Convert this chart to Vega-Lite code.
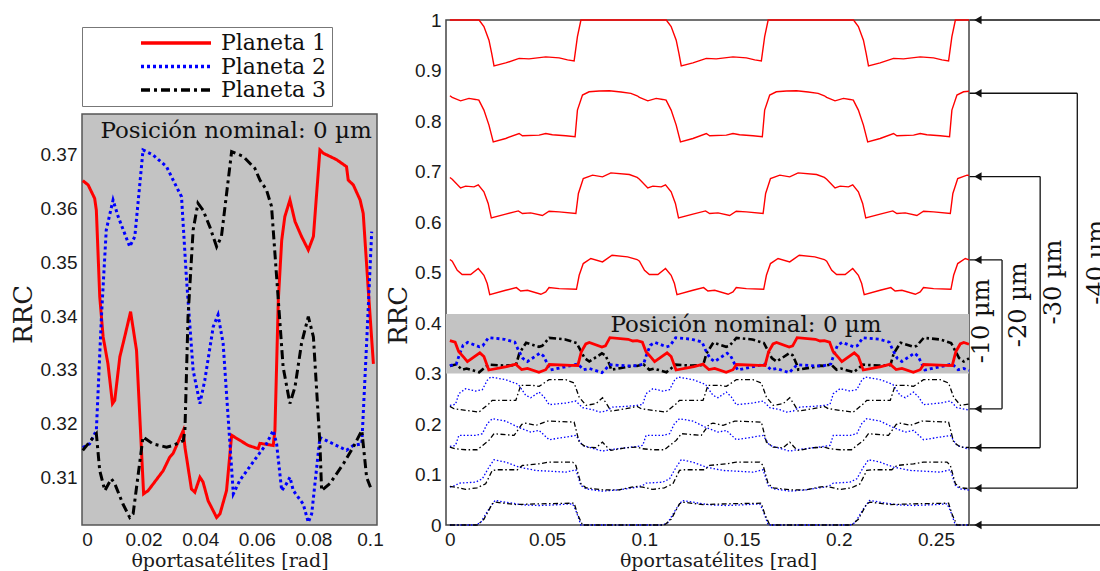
{
"$schema": "https://vega.github.io/schema/vega-lite/v6.json",
"background": "white",
"padding": {"left": 10, "top": 10, "right": 0, "bottom": 0},
"config": {
  "axis": {"grid": false, "ticks": false, "domain": false, "labelFont": "Liberation Sans", "labelFontSize": 19, "labelColor": "#1a1a1a", "titleFont": "DejaVu Serif", "titleFontWeight": "normal", "titleColor": "#1a1a1a", "labelPadding": 5, "labelFlush": false},
  "concat": {"spacing": 0}
},
"datasets": {
"left": [
{"p":"Planeta 1","x":-0.0015,"y":0.3652},{"p":"Planeta 1","x":0.0004,"y":0.3644},{"p":"Planeta 1","x":0.0027,"y":0.3619},{"p":"Planeta 1","x":0.0033,"y":0.3597},{"p":"Planeta 1","x":0.0045,"y":0.3436},{"p":"Planeta 1","x":0.0057,"y":0.3361},{"p":"Planeta 1","x":0.0074,"y":0.3311},{"p":"Planeta 1","x":0.009,"y":0.3237},{"p":"Planeta 1","x":0.0098,"y":0.3243},{"p":"Planeta 1","x":0.0116,"y":0.3324},{"p":"Planeta 1","x":0.0133,"y":0.3361},{"p":"Planeta 1","x":0.0154,"y":0.3408},{"p":"Planeta 1","x":0.0175,"y":0.3336},{"p":"Planeta 1","x":0.02,"y":0.3069},{"p":"Planeta 1","x":0.0216,"y":0.3075},{"p":"Planeta 1","x":0.0269,"y":0.3112},{"p":"Planeta 1","x":0.0292,"y":0.3137},{"p":"Planeta 1","x":0.0304,"y":0.3144},{"p":"Planeta 1","x":0.034,"y":0.3187},{"p":"Planeta 1","x":0.0346,"y":0.3156},{"p":"Planeta 1","x":0.0369,"y":0.3078},{"p":"Planeta 1","x":0.0381,"y":0.3072},{"p":"Planeta 1","x":0.0399,"y":0.31},{"p":"Planeta 1","x":0.041,"y":0.3091},{"p":"Planeta 1","x":0.0428,"y":0.3056},{"p":"Planeta 1","x":0.0458,"y":0.3025},{"p":"Planeta 1","x":0.047,"y":0.3032},{"p":"Planeta 1","x":0.0493,"y":0.3075},{"p":"Planeta 1","x":0.0511,"y":0.3178},{"p":"Planeta 1","x":0.057,"y":0.3159},{"p":"Planeta 1","x":0.0605,"y":0.3153},{"p":"Planeta 1","x":0.0611,"y":0.3163},{"p":"Planeta 1","x":0.0623,"y":0.3162},{"p":"Planeta 1","x":0.0658,"y":0.3159},{"p":"Planeta 1","x":0.0664,"y":0.3187},{"p":"Planeta 1","x":0.0676,"y":0.343},{"p":"Planeta 1","x":0.0688,"y":0.3541},{"p":"Planeta 1","x":0.0699,"y":0.3585},{"p":"Planeta 1","x":0.0717,"y":0.3616},{"p":"Planeta 1","x":0.0735,"y":0.3576},{"p":"Planeta 1","x":0.0758,"y":0.3548},{"p":"Planeta 1","x":0.0782,"y":0.3523},{"p":"Planeta 1","x":0.08,"y":0.3548},{"p":"Planeta 1","x":0.0823,"y":0.3709},{"p":"Planeta 1","x":0.0835,"y":0.3703},{"p":"Planeta 1","x":0.0882,"y":0.3691},{"p":"Planeta 1","x":0.0917,"y":0.3678},{"p":"Planeta 1","x":0.0923,"y":0.3653},{"p":"Planeta 1","x":0.0941,"y":0.3644},{"p":"Planeta 1","x":0.0965,"y":0.3616},{"p":"Planeta 1","x":0.0976,"y":0.3591},{"p":"Planeta 1","x":0.0994,"y":0.3448},{"p":"Planeta 1","x":0.1012,"y":0.3311},
{"p":"Planeta 2","x":-0.0015,"y":0.3155},{"p":"Planeta 2","x":0.0009,"y":0.3162},{"p":"Planeta 2","x":0.0033,"y":0.3187},{"p":"Planeta 2","x":0.0051,"y":0.3399},{"p":"Planeta 2","x":0.0068,"y":0.356},{"p":"Planeta 2","x":0.0092,"y":0.3616},{"p":"Planeta 2","x":0.011,"y":0.3585},{"p":"Planeta 2","x":0.0151,"y":0.3529},{"p":"Planeta 2","x":0.0169,"y":0.3548},{"p":"Planeta 2","x":0.0198,"y":0.3709},{"p":"Planeta 2","x":0.0233,"y":0.37},{"p":"Planeta 2","x":0.0281,"y":0.3678},{"p":"Planeta 2","x":0.031,"y":0.3647},{"p":"Planeta 2","x":0.0334,"y":0.3622},{"p":"Planeta 2","x":0.0351,"y":0.3473},{"p":"Planeta 2","x":0.0375,"y":0.3299},{"p":"Planeta 2","x":0.0399,"y":0.3237},{"p":"Planeta 2","x":0.0416,"y":0.328},{"p":"Planeta 2","x":0.0446,"y":0.338},{"p":"Planeta 2","x":0.0463,"y":0.3402},{"p":"Planeta 2","x":0.0481,"y":0.3349},{"p":"Planeta 2","x":0.0505,"y":0.3162},{"p":"Planeta 2","x":0.0517,"y":0.3069},{"p":"Planeta 2","x":0.054,"y":0.3094},{"p":"Planeta 2","x":0.0599,"y":0.3137},{"p":"Planeta 2","x":0.0634,"y":0.3162},{"p":"Planeta 2","x":0.0658,"y":0.3187},{"p":"Planeta 2","x":0.067,"y":0.3162},{"p":"Planeta 2","x":0.0688,"y":0.3075},{"p":"Planeta 2","x":0.0705,"y":0.3088},{"p":"Planeta 2","x":0.0717,"y":0.31},{"p":"Planeta 2","x":0.0729,"y":0.3075},{"p":"Planeta 2","x":0.0764,"y":0.305},{"p":"Planeta 2","x":0.0782,"y":0.3016},{"p":"Planeta 2","x":0.0794,"y":0.3032},{"p":"Planeta 2","x":0.0823,"y":0.3174},{"p":"Planeta 2","x":0.087,"y":0.3162},{"p":"Planeta 2","x":0.0917,"y":0.315},{"p":"Planeta 2","x":0.0941,"y":0.3159},{"p":"Planeta 2","x":0.0971,"y":0.3162},{"p":"Planeta 2","x":0.0988,"y":0.3349},{"p":"Planeta 2","x":0.1006,"y":0.3557},
{"p":"Planeta 3","x":-0.0015,"y":0.315},{"p":"Planeta 3","x":0.0033,"y":0.3181},{"p":"Planeta 3","x":0.0045,"y":0.3112},{"p":"Planeta 3","x":0.0063,"y":0.3075},{"p":"Planeta 3","x":0.0086,"y":0.3097},{"p":"Planeta 3","x":0.0098,"y":0.3088},{"p":"Planeta 3","x":0.0127,"y":0.305},{"p":"Planeta 3","x":0.0151,"y":0.3025},{"p":"Planeta 3","x":0.0163,"y":0.3032},{"p":"Planeta 3","x":0.0198,"y":0.3175},{"p":"Planeta 3","x":0.0233,"y":0.3162},{"p":"Planeta 3","x":0.0281,"y":0.3156},{"p":"Planeta 3","x":0.0304,"y":0.3159},{"p":"Planeta 3","x":0.034,"y":0.3168},{"p":"Planeta 3","x":0.0346,"y":0.3187},{"p":"Planeta 3","x":0.0357,"y":0.3399},{"p":"Planeta 3","x":0.0375,"y":0.356},{"p":"Planeta 3","x":0.0392,"y":0.361},{"p":"Planeta 3","x":0.041,"y":0.3597},{"p":"Planeta 3","x":0.0434,"y":0.3566},{"p":"Planeta 3","x":0.0458,"y":0.3529},{"p":"Planeta 3","x":0.0475,"y":0.3548},{"p":"Planeta 3","x":0.0511,"y":0.3706},{"p":"Planeta 3","x":0.0552,"y":0.3697},{"p":"Planeta 3","x":0.0593,"y":0.3675},{"p":"Planeta 3","x":0.0611,"y":0.3653},{"p":"Planeta 3","x":0.0634,"y":0.3635},{"p":"Planeta 3","x":0.0652,"y":0.3604},{"p":"Planeta 3","x":0.067,"y":0.3473},{"p":"Planeta 3","x":0.0693,"y":0.3305},{"p":"Planeta 3","x":0.0717,"y":0.3237},{"p":"Planeta 3","x":0.0735,"y":0.3268},{"p":"Planeta 3","x":0.0758,"y":0.3349},{"p":"Planeta 3","x":0.0782,"y":0.3399},{"p":"Planeta 3","x":0.08,"y":0.3361},{"p":"Planeta 3","x":0.0823,"y":0.3162},{"p":"Planeta 3","x":0.0829,"y":0.3075},{"p":"Planeta 3","x":0.0858,"y":0.3088},{"p":"Planeta 3","x":0.0906,"y":0.3125},{"p":"Planeta 3","x":0.0941,"y":0.3156},{"p":"Planeta 3","x":0.0971,"y":0.3187},{"p":"Planeta 3","x":0.0988,"y":0.31},{"p":"Planeta 3","x":0.1006,"y":0.3075}
],
"offR": [
{"c":"40","x":0,"y":1},{"c":"40","x":0.015,"y":1},{"c":"40","x":0.0175,"y":0.987},{"c":"40","x":0.0201,"y":0.96},{"c":"40","x":0.0215,"y":0.934},{"c":"40","x":0.0227,"y":0.909},{"c":"40","x":0.0287,"y":0.915},{"c":"40","x":0.0356,"y":0.924},{"c":"40","x":0.0407,"y":0.923},{"c":"40","x":0.0493,"y":0.927},{"c":"40","x":0.0562,"y":0.925},{"c":"40","x":0.0605,"y":0.921},{"c":"40","x":0.0639,"y":0.919},{"c":"40","x":0.0656,"y":0.967},{"c":"40","x":0.0674,"y":1},
{"c":"40","x":0.1113,"y":1},{"c":"40","x":0.1138,"y":0.987},{"c":"40","x":0.1164,"y":0.96},{"c":"40","x":0.1178,"y":0.934},{"c":"40","x":0.119,"y":0.909},{"c":"40","x":0.125,"y":0.915},{"c":"40","x":0.1319,"y":0.924},{"c":"40","x":0.137,"y":0.923},{"c":"40","x":0.1456,"y":0.927},{"c":"40","x":0.1525,"y":0.925},{"c":"40","x":0.1568,"y":0.921},{"c":"40","x":0.1602,"y":0.919},{"c":"40","x":0.1619,"y":0.967},{"c":"40","x":0.1637,"y":1},
{"c":"40","x":0.2076,"y":1},{"c":"40","x":0.2101,"y":0.987},{"c":"40","x":0.2127,"y":0.96},{"c":"40","x":0.2141,"y":0.934},{"c":"40","x":0.2153,"y":0.909},{"c":"40","x":0.2213,"y":0.915},{"c":"40","x":0.2282,"y":0.924},{"c":"40","x":0.2333,"y":0.923},{"c":"40","x":0.2419,"y":0.927},{"c":"40","x":0.2488,"y":0.925},{"c":"40","x":0.2531,"y":0.921},{"c":"40","x":0.2565,"y":0.919},{"c":"40","x":0.2582,"y":0.967},{"c":"40","x":0.26,"y":1},{"c":"40","x":0.267,"y":1},
{"c":"30","x":0,"y":0.85},{"c":"30","x":0.0012,"y":0.8467},{"c":"30","x":0.0055,"y":0.84},{"c":"30","x":0.0098,"y":0.8447},{"c":"30","x":0.0132,"y":0.8427},{"c":"30","x":0.0149,"y":0.8414},{"c":"30","x":0.0175,"y":0.8216},{"c":"30","x":0.0201,"y":0.7919},{"c":"30","x":0.0223,"y":0.7588},{"c":"30","x":0.0287,"y":0.7654},{"c":"30","x":0.0356,"y":0.7753},{"c":"30","x":0.0373,"y":0.7707},{"c":"30","x":0.0459,"y":0.772},{"c":"30","x":0.0493,"y":0.7753},{"c":"30","x":0.0527,"y":0.7727},{"c":"30","x":0.0596,"y":0.7707},{"c":"30","x":0.0644,"y":0.7687},{"c":"30","x":0.0656,"y":0.8216},{"c":"30","x":0.0682,"y":0.8513},{"c":"30","x":0.0716,"y":0.8579},{"c":"30","x":0.0768,"y":0.8593},{"c":"30","x":0.082,"y":0.8599},{"c":"30","x":0.088,"y":0.8573},{"c":"30","x":0.0931,"y":0.8547},
{"c":"30","x":0.0963,"y":0.85},{"c":"30","x":0.0975,"y":0.8467},{"c":"30","x":0.1018,"y":0.84},{"c":"30","x":0.1061,"y":0.8447},{"c":"30","x":0.1095,"y":0.8427},{"c":"30","x":0.1112,"y":0.8414},{"c":"30","x":0.1138,"y":0.8216},{"c":"30","x":0.1164,"y":0.7919},{"c":"30","x":0.1186,"y":0.7588},{"c":"30","x":0.125,"y":0.7654},{"c":"30","x":0.1319,"y":0.7753},{"c":"30","x":0.1336,"y":0.7707},{"c":"30","x":0.1422,"y":0.772},{"c":"30","x":0.1456,"y":0.7753},{"c":"30","x":0.149,"y":0.7727},{"c":"30","x":0.1559,"y":0.7707},{"c":"30","x":0.1607,"y":0.7687},{"c":"30","x":0.1619,"y":0.8216},{"c":"30","x":0.1645,"y":0.8513},{"c":"30","x":0.1679,"y":0.8579},{"c":"30","x":0.1731,"y":0.8593},{"c":"30","x":0.1783,"y":0.8599},{"c":"30","x":0.1843,"y":0.8573},{"c":"30","x":0.1894,"y":0.8547},
{"c":"30","x":0.1926,"y":0.85},{"c":"30","x":0.1938,"y":0.8467},{"c":"30","x":0.1981,"y":0.84},{"c":"30","x":0.2024,"y":0.8447},{"c":"30","x":0.2058,"y":0.8427},{"c":"30","x":0.2075,"y":0.8414},{"c":"30","x":0.2101,"y":0.8216},{"c":"30","x":0.2127,"y":0.7919},{"c":"30","x":0.2149,"y":0.7588},{"c":"30","x":0.2213,"y":0.7654},{"c":"30","x":0.2282,"y":0.7753},{"c":"30","x":0.2299,"y":0.7707},{"c":"30","x":0.2385,"y":0.772},{"c":"30","x":0.2419,"y":0.7753},{"c":"30","x":0.2453,"y":0.7727},{"c":"30","x":0.2522,"y":0.7707},{"c":"30","x":0.257,"y":0.7687},{"c":"30","x":0.2582,"y":0.8216},{"c":"30","x":0.2608,"y":0.8513},{"c":"30","x":0.2642,"y":0.8579},{"c":"30","x":0.267,"y":0.859},
{"c":"20","x":0,"y":0.6882},{"c":"20","x":0.0012,"y":0.6848},{"c":"20","x":0.0055,"y":0.6676},{"c":"20","x":0.0081,"y":0.671},{"c":"20","x":0.0124,"y":0.6696},{"c":"20","x":0.0146,"y":0.6736},{"c":"20","x":0.0175,"y":0.6597},{"c":"20","x":0.0197,"y":0.6367},{"c":"20","x":0.0213,"y":0.6081},{"c":"20","x":0.0287,"y":0.6155},{"c":"20","x":0.0352,"y":0.622},{"c":"20","x":0.0373,"y":0.6168},{"c":"20","x":0.0416,"y":0.6181},{"c":"20","x":0.0476,"y":0.6129},{"c":"20","x":0.051,"y":0.6214},{"c":"20","x":0.0562,"y":0.6201},{"c":"20","x":0.0648,"y":0.6168},{"c":"20","x":0.0661,"y":0.6565},{"c":"20","x":0.0686,"y":0.6862},{"c":"20","x":0.0734,"y":0.6928},{"c":"20","x":0.0785,"y":0.6894},{"c":"20","x":0.0828,"y":0.6973},{"c":"20","x":0.0923,"y":0.6941},
{"c":"20","x":0.0963,"y":0.6882},{"c":"20","x":0.0975,"y":0.6848},{"c":"20","x":0.1018,"y":0.6676},{"c":"20","x":0.1044,"y":0.671},{"c":"20","x":0.1087,"y":0.6696},{"c":"20","x":0.1109,"y":0.6736},{"c":"20","x":0.1138,"y":0.6597},{"c":"20","x":0.116,"y":0.6367},{"c":"20","x":0.1176,"y":0.6081},{"c":"20","x":0.125,"y":0.6155},{"c":"20","x":0.1315,"y":0.622},{"c":"20","x":0.1336,"y":0.6168},{"c":"20","x":0.1379,"y":0.6181},{"c":"20","x":0.1439,"y":0.6129},{"c":"20","x":0.1473,"y":0.6214},{"c":"20","x":0.1525,"y":0.6201},{"c":"20","x":0.1611,"y":0.6168},{"c":"20","x":0.1624,"y":0.6565},{"c":"20","x":0.1649,"y":0.6862},{"c":"20","x":0.1697,"y":0.6928},{"c":"20","x":0.1748,"y":0.6894},{"c":"20","x":0.1791,"y":0.6973},{"c":"20","x":0.1886,"y":0.6941},
{"c":"20","x":0.1926,"y":0.6882},{"c":"20","x":0.1938,"y":0.6848},{"c":"20","x":0.1981,"y":0.6676},{"c":"20","x":0.2007,"y":0.671},{"c":"20","x":0.205,"y":0.6696},{"c":"20","x":0.2072,"y":0.6736},{"c":"20","x":0.2101,"y":0.6597},{"c":"20","x":0.2123,"y":0.6367},{"c":"20","x":0.2139,"y":0.6081},{"c":"20","x":0.2213,"y":0.6155},{"c":"20","x":0.2278,"y":0.622},{"c":"20","x":0.2299,"y":0.6168},{"c":"20","x":0.2342,"y":0.6181},{"c":"20","x":0.2402,"y":0.6129},{"c":"20","x":0.2436,"y":0.6214},{"c":"20","x":0.2488,"y":0.6201},{"c":"20","x":0.2574,"y":0.6168},{"c":"20","x":0.2587,"y":0.6565},{"c":"20","x":0.2612,"y":0.6862},{"c":"20","x":0.266,"y":0.6928},{"c":"20","x":0.267,"y":0.692},
{"c":"10","x":0,"y":0.5257},{"c":"10","x":0.0012,"y":0.5223},{"c":"10","x":0.0038,"y":0.5045},{"c":"10","x":0.0063,"y":0.4959},{"c":"10","x":0.0107,"y":0.4959},{"c":"10","x":0.0146,"y":0.5078},{"c":"10","x":0.0175,"y":0.4945},{"c":"10","x":0.0192,"y":0.4781},{"c":"10","x":0.0205,"y":0.4563},{"c":"10","x":0.0287,"y":0.4648},{"c":"10","x":0.0342,"y":0.4701},{"c":"10","x":0.0364,"y":0.4635},{"c":"10","x":0.0399,"y":0.4648},{"c":"10","x":0.0468,"y":0.4569},{"c":"10","x":0.0493,"y":0.4615},{"c":"10","x":0.051,"y":0.4701},{"c":"10","x":0.0562,"y":0.4681},{"c":"10","x":0.0651,"y":0.4668},{"c":"10","x":0.0665,"y":0.4945},{"c":"10","x":0.0686,"y":0.5177},{"c":"10","x":0.0725,"y":0.5277},{"c":"10","x":0.0785,"y":0.5209},{"c":"10","x":0.0834,"y":0.5342},{"c":"10","x":0.0914,"y":0.5309},
{"c":"10","x":0.0963,"y":0.5257},{"c":"10","x":0.0975,"y":0.5223},{"c":"10","x":0.1001,"y":0.5045},{"c":"10","x":0.1026,"y":0.4959},{"c":"10","x":0.107,"y":0.4959},{"c":"10","x":0.1109,"y":0.5078},{"c":"10","x":0.1138,"y":0.4945},{"c":"10","x":0.1155,"y":0.4781},{"c":"10","x":0.1168,"y":0.4563},{"c":"10","x":0.125,"y":0.4648},{"c":"10","x":0.1305,"y":0.4701},{"c":"10","x":0.1327,"y":0.4635},{"c":"10","x":0.1362,"y":0.4648},{"c":"10","x":0.1431,"y":0.4569},{"c":"10","x":0.1456,"y":0.4615},{"c":"10","x":0.1473,"y":0.4701},{"c":"10","x":0.1525,"y":0.4681},{"c":"10","x":0.1614,"y":0.4668},{"c":"10","x":0.1628,"y":0.4945},{"c":"10","x":0.1649,"y":0.5177},{"c":"10","x":0.1688,"y":0.5277},{"c":"10","x":0.1748,"y":0.5209},{"c":"10","x":0.1797,"y":0.5342},{"c":"10","x":0.1877,"y":0.5309},
{"c":"10","x":0.1926,"y":0.5257},{"c":"10","x":0.1938,"y":0.5223},{"c":"10","x":0.1964,"y":0.5045},{"c":"10","x":0.1989,"y":0.4959},{"c":"10","x":0.2033,"y":0.4959},{"c":"10","x":0.2072,"y":0.5078},{"c":"10","x":0.2101,"y":0.4945},{"c":"10","x":0.2118,"y":0.4781},{"c":"10","x":0.2131,"y":0.4563},{"c":"10","x":0.2213,"y":0.4648},{"c":"10","x":0.2268,"y":0.4701},{"c":"10","x":0.229,"y":0.4635},{"c":"10","x":0.2325,"y":0.4648},{"c":"10","x":0.2394,"y":0.4569},{"c":"10","x":0.2419,"y":0.4615},{"c":"10","x":0.2436,"y":0.4701},{"c":"10","x":0.2488,"y":0.4681},{"c":"10","x":0.2577,"y":0.4668},{"c":"10","x":0.2591,"y":0.4945},{"c":"10","x":0.2612,"y":0.5177},{"c":"10","x":0.2651,"y":0.5277},{"c":"10","x":0.267,"y":0.525}
],
"offB": [
{"c":"10","x":0,"y":0.2369},{"c":"10","x":0.0029,"y":0.2389},{"c":"10","x":0.0046,"y":0.26},{"c":"10","x":0.0081,"y":0.27},{"c":"10","x":0.0132,"y":0.2652},{"c":"10","x":0.0167,"y":0.268},{"c":"10","x":0.0192,"y":0.2864},{"c":"10","x":0.021,"y":0.293},{"c":"10","x":0.0287,"y":0.2878},{"c":"10","x":0.0352,"y":0.2785},{"c":"10","x":0.039,"y":0.2567},{"c":"10","x":0.0416,"y":0.2521},{"c":"10","x":0.0459,"y":0.2632},{"c":"10","x":0.0485,"y":0.2533},{"c":"10","x":0.051,"y":0.2383},{"c":"10","x":0.0596,"y":0.2415},{"c":"10","x":0.0648,"y":0.2455},{"c":"10","x":0.0682,"y":0.2323},{"c":"10","x":0.0734,"y":0.2284},{"c":"10","x":0.0768,"y":0.2236},{"c":"10","x":0.0803,"y":0.2256},{"c":"10","x":0.0837,"y":0.2335},{"c":"10","x":0.0906,"y":0.2349},
{"c":"10","x":0.0963,"y":0.2369},{"c":"10","x":0.0992,"y":0.2389},{"c":"10","x":0.1009,"y":0.26},{"c":"10","x":0.1044,"y":0.27},{"c":"10","x":0.1095,"y":0.2652},{"c":"10","x":0.113,"y":0.268},{"c":"10","x":0.1155,"y":0.2864},{"c":"10","x":0.1173,"y":0.293},{"c":"10","x":0.125,"y":0.2878},{"c":"10","x":0.1315,"y":0.2785},{"c":"10","x":0.1353,"y":0.2567},{"c":"10","x":0.1379,"y":0.2521},{"c":"10","x":0.1422,"y":0.2632},{"c":"10","x":0.1448,"y":0.2533},{"c":"10","x":0.1473,"y":0.2383},{"c":"10","x":0.1559,"y":0.2415},{"c":"10","x":0.1611,"y":0.2455},{"c":"10","x":0.1645,"y":0.2323},{"c":"10","x":0.1697,"y":0.2284},{"c":"10","x":0.1731,"y":0.2236},{"c":"10","x":0.1766,"y":0.2256},{"c":"10","x":0.18,"y":0.2335},{"c":"10","x":0.1869,"y":0.2349},
{"c":"10","x":0.1926,"y":0.2369},{"c":"10","x":0.1955,"y":0.2389},{"c":"10","x":0.1972,"y":0.26},{"c":"10","x":0.2007,"y":0.27},{"c":"10","x":0.2058,"y":0.2652},{"c":"10","x":0.2093,"y":0.268},{"c":"10","x":0.2118,"y":0.2864},{"c":"10","x":0.2136,"y":0.293},{"c":"10","x":0.2213,"y":0.2878},{"c":"10","x":0.2278,"y":0.2785},{"c":"10","x":0.2316,"y":0.2567},{"c":"10","x":0.2342,"y":0.2521},{"c":"10","x":0.2385,"y":0.2632},{"c":"10","x":0.2411,"y":0.2533},{"c":"10","x":0.2436,"y":0.2383},{"c":"10","x":0.2522,"y":0.2415},{"c":"10","x":0.2574,"y":0.2455},{"c":"10","x":0.2608,"y":0.2323},{"c":"10","x":0.266,"y":0.2284},{"c":"10","x":0.267,"y":0.2276},
{"c":"20","x":0,"y":0.1556},{"c":"20","x":0.0029,"y":0.1576},{"c":"20","x":0.0046,"y":0.1774},{"c":"20","x":0.0132,"y":0.1774},{"c":"20","x":0.0167,"y":0.1808},{"c":"20","x":0.0192,"y":0.2006},{"c":"20","x":0.0218,"y":0.2105},{"c":"20","x":0.0287,"y":0.2058},{"c":"20","x":0.0356,"y":0.1927},{"c":"20","x":0.0416,"y":0.1839},{"c":"20","x":0.0459,"y":0.1873},{"c":"20","x":0.051,"y":0.1689},{"c":"20","x":0.0596,"y":0.1741},{"c":"20","x":0.0648,"y":0.1774},{"c":"20","x":0.0682,"y":0.1576},{"c":"20","x":0.0785,"y":0.1463},{"c":"20","x":0.082,"y":0.149},{"c":"20","x":0.0906,"y":0.153},
{"c":"20","x":0.0963,"y":0.1556},{"c":"20","x":0.0992,"y":0.1576},{"c":"20","x":0.1009,"y":0.1774},{"c":"20","x":0.1095,"y":0.1774},{"c":"20","x":0.113,"y":0.1808},{"c":"20","x":0.1155,"y":0.2006},{"c":"20","x":0.1181,"y":0.2105},{"c":"20","x":0.125,"y":0.2058},{"c":"20","x":0.1319,"y":0.1927},{"c":"20","x":0.1379,"y":0.1839},{"c":"20","x":0.1422,"y":0.1873},{"c":"20","x":0.1473,"y":0.1689},{"c":"20","x":0.1559,"y":0.1741},{"c":"20","x":0.1611,"y":0.1774},{"c":"20","x":0.1645,"y":0.1576},{"c":"20","x":0.1748,"y":0.1463},{"c":"20","x":0.1783,"y":0.149},{"c":"20","x":0.1869,"y":0.153},
{"c":"20","x":0.1926,"y":0.1556},{"c":"20","x":0.1955,"y":0.1576},{"c":"20","x":0.1972,"y":0.1774},{"c":"20","x":0.2058,"y":0.1774},{"c":"20","x":0.2093,"y":0.1808},{"c":"20","x":0.2118,"y":0.2006},{"c":"20","x":0.2144,"y":0.2105},{"c":"20","x":0.2213,"y":0.2058},{"c":"20","x":0.2282,"y":0.1927},{"c":"20","x":0.2342,"y":0.1839},{"c":"20","x":0.2385,"y":0.1873},{"c":"20","x":0.2436,"y":0.1689},{"c":"20","x":0.2522,"y":0.1741},{"c":"20","x":0.2574,"y":0.1774},{"c":"20","x":0.2608,"y":0.1576},{"c":"20","x":0.267,"y":0.15},
{"c":"30","x":0,"y":0.0749},{"c":"30","x":0.0029,"y":0.0783},{"c":"30","x":0.0046,"y":0.0829},{"c":"30","x":0.0132,"y":0.0848},{"c":"30","x":0.0167,"y":0.0916},{"c":"30","x":0.0201,"y":0.1146},{"c":"30","x":0.0227,"y":0.1292},{"c":"30","x":0.0287,"y":0.1245},{"c":"30","x":0.0356,"y":0.1146},{"c":"30","x":0.0442,"y":0.108},{"c":"30","x":0.051,"y":0.1066},{"c":"30","x":0.0596,"y":0.1047},{"c":"30","x":0.0648,"y":0.1094},{"c":"30","x":0.0674,"y":0.0783},{"c":"30","x":0.07,"y":0.0717},{"c":"30","x":0.0785,"y":0.067},{"c":"30","x":0.0871,"y":0.0697},{"c":"30","x":0.094,"y":0.0737},
{"c":"30","x":0.0963,"y":0.0749},{"c":"30","x":0.0992,"y":0.0783},{"c":"30","x":0.1009,"y":0.0829},{"c":"30","x":0.1095,"y":0.0848},{"c":"30","x":0.113,"y":0.0916},{"c":"30","x":0.1164,"y":0.1146},{"c":"30","x":0.119,"y":0.1292},{"c":"30","x":0.125,"y":0.1245},{"c":"30","x":0.1319,"y":0.1146},{"c":"30","x":0.1405,"y":0.108},{"c":"30","x":0.1473,"y":0.1066},{"c":"30","x":0.1559,"y":0.1047},{"c":"30","x":0.1611,"y":0.1094},{"c":"30","x":0.1637,"y":0.0783},{"c":"30","x":0.1663,"y":0.0717},{"c":"30","x":0.1748,"y":0.067},{"c":"30","x":0.1834,"y":0.0697},{"c":"30","x":0.1903,"y":0.0737},
{"c":"30","x":0.1926,"y":0.0749},{"c":"30","x":0.1955,"y":0.0783},{"c":"30","x":0.1972,"y":0.0829},{"c":"30","x":0.2058,"y":0.0848},{"c":"30","x":0.2093,"y":0.0916},{"c":"30","x":0.2127,"y":0.1146},{"c":"30","x":0.2153,"y":0.1292},{"c":"30","x":0.2213,"y":0.1245},{"c":"30","x":0.2282,"y":0.1146},{"c":"30","x":0.2368,"y":0.108},{"c":"30","x":0.2436,"y":0.1066},{"c":"30","x":0.2522,"y":0.1047},{"c":"30","x":0.2574,"y":0.1094},{"c":"30","x":0.26,"y":0.0783},{"c":"30","x":0.2626,"y":0.0717},{"c":"30","x":0.267,"y":0.069},
{"c":"40","x":0,"y":0},{"c":"40","x":0.0132,"y":0},{"c":"40","x":0.0158,"y":0.0046},{"c":"40","x":0.0201,"y":0.032},{"c":"40","x":0.0232,"y":0.0486},{"c":"40","x":0.0287,"y":0.0452},{"c":"40","x":0.0373,"y":0.0399},{"c":"40","x":0.0459,"y":0.0386},{"c":"40","x":0.0545,"y":0.0399},{"c":"40","x":0.0631,"y":0.0419},{"c":"40","x":0.0648,"y":0.0286},{"c":"40","x":0.0674,"y":0},
{"c":"40","x":0.1095,"y":0},{"c":"40","x":0.1121,"y":0.0046},{"c":"40","x":0.1164,"y":0.032},{"c":"40","x":0.1195,"y":0.0486},{"c":"40","x":0.125,"y":0.0452},{"c":"40","x":0.1336,"y":0.0399},{"c":"40","x":0.1422,"y":0.0386},{"c":"40","x":0.1508,"y":0.0399},{"c":"40","x":0.1594,"y":0.0419},{"c":"40","x":0.1611,"y":0.0286},{"c":"40","x":0.1637,"y":0},
{"c":"40","x":0.2058,"y":0},{"c":"40","x":0.2084,"y":0.0046},{"c":"40","x":0.2127,"y":0.032},{"c":"40","x":0.2158,"y":0.0486},{"c":"40","x":0.2213,"y":0.0452},{"c":"40","x":0.2299,"y":0.0399},{"c":"40","x":0.2385,"y":0.0386},{"c":"40","x":0.2471,"y":0.0399},{"c":"40","x":0.2557,"y":0.0419},{"c":"40","x":0.2574,"y":0.0286},{"c":"40","x":0.26,"y":0},{"c":"40","x":0.267,"y":0}
],
"offK": [
{"c":"10","x":0,"y":0.2349},{"c":"10","x":0.0021,"y":0.2303},{"c":"10","x":0.0081,"y":0.227},{"c":"10","x":0.0149,"y":0.2236},{"c":"10","x":0.0201,"y":0.2402},{"c":"10","x":0.0218,"y":0.2468},{"c":"10","x":0.0339,"y":0.2468},{"c":"10","x":0.0356,"y":0.2666},{"c":"10","x":0.0364,"y":0.2765},{"c":"10","x":0.0424,"y":0.2765},{"c":"10","x":0.0459,"y":0.2745},{"c":"10","x":0.051,"y":0.2878},{"c":"10","x":0.0596,"y":0.2878},{"c":"10","x":0.0639,"y":0.2811},{"c":"10","x":0.0665,"y":0.2533},{"c":"10","x":0.07,"y":0.2369},{"c":"10","x":0.0751,"y":0.2402},{"c":"10","x":0.0785,"y":0.2521},{"c":"10","x":0.0811,"y":0.2369},{"c":"10","x":0.0828,"y":0.2256},{"c":"10","x":0.0906,"y":0.2303},
{"c":"10","x":0.0963,"y":0.2349},{"c":"10","x":0.0984,"y":0.2303},{"c":"10","x":0.1044,"y":0.227},{"c":"10","x":0.1112,"y":0.2236},{"c":"10","x":0.1164,"y":0.2402},{"c":"10","x":0.1181,"y":0.2468},{"c":"10","x":0.1302,"y":0.2468},{"c":"10","x":0.1319,"y":0.2666},{"c":"10","x":0.1327,"y":0.2765},{"c":"10","x":0.1387,"y":0.2765},{"c":"10","x":0.1422,"y":0.2745},{"c":"10","x":0.1473,"y":0.2878},{"c":"10","x":0.1559,"y":0.2878},{"c":"10","x":0.1602,"y":0.2811},{"c":"10","x":0.1628,"y":0.2533},{"c":"10","x":0.1663,"y":0.2369},{"c":"10","x":0.1714,"y":0.2402},{"c":"10","x":0.1748,"y":0.2521},{"c":"10","x":0.1774,"y":0.2369},{"c":"10","x":0.1791,"y":0.2256},{"c":"10","x":0.1869,"y":0.2303},
{"c":"10","x":0.1926,"y":0.2349},{"c":"10","x":0.1947,"y":0.2303},{"c":"10","x":0.2007,"y":0.227},{"c":"10","x":0.2075,"y":0.2236},{"c":"10","x":0.2127,"y":0.2402},{"c":"10","x":0.2144,"y":0.2468},{"c":"10","x":0.2265,"y":0.2468},{"c":"10","x":0.2282,"y":0.2666},{"c":"10","x":0.229,"y":0.2765},{"c":"10","x":0.235,"y":0.2765},{"c":"10","x":0.2385,"y":0.2745},{"c":"10","x":0.2436,"y":0.2878},{"c":"10","x":0.2522,"y":0.2878},{"c":"10","x":0.2565,"y":0.2811},{"c":"10","x":0.2591,"y":0.2533},{"c":"10","x":0.2626,"y":0.2369},{"c":"10","x":0.267,"y":0.2395},
{"c":"20","x":0,"y":0.1542},{"c":"20","x":0.0029,"y":0.151},{"c":"20","x":0.0081,"y":0.149},{"c":"20","x":0.014,"y":0.149},{"c":"20","x":0.0201,"y":0.1675},{"c":"20","x":0.0227,"y":0.1808},{"c":"20","x":0.033,"y":0.1774},{"c":"20","x":0.037,"y":0.1992},{"c":"20","x":0.039,"y":0.2018},{"c":"20","x":0.0442,"y":0.1972},{"c":"20","x":0.0502,"y":0.2058},{"c":"20","x":0.0639,"y":0.2038},{"c":"20","x":0.0665,"y":0.1641},{"c":"20","x":0.07,"y":0.1542},{"c":"20","x":0.0751,"y":0.153},{"c":"20","x":0.0785,"y":0.1641},{"c":"20","x":0.0811,"y":0.153},{"c":"20","x":0.0828,"y":0.1477},{"c":"20","x":0.0906,"y":0.153},
{"c":"20","x":0.0963,"y":0.1542},{"c":"20","x":0.0992,"y":0.151},{"c":"20","x":0.1044,"y":0.149},{"c":"20","x":0.1103,"y":0.149},{"c":"20","x":0.1164,"y":0.1675},{"c":"20","x":0.119,"y":0.1808},{"c":"20","x":0.1293,"y":0.1774},{"c":"20","x":0.1333,"y":0.1992},{"c":"20","x":0.1353,"y":0.2018},{"c":"20","x":0.1405,"y":0.1972},{"c":"20","x":0.1465,"y":0.2058},{"c":"20","x":0.1602,"y":0.2038},{"c":"20","x":0.1628,"y":0.1641},{"c":"20","x":0.1663,"y":0.1542},{"c":"20","x":0.1714,"y":0.153},{"c":"20","x":0.1748,"y":0.1641},{"c":"20","x":0.1774,"y":0.153},{"c":"20","x":0.1791,"y":0.1477},{"c":"20","x":0.1869,"y":0.153},
{"c":"20","x":0.1926,"y":0.1542},{"c":"20","x":0.1955,"y":0.151},{"c":"20","x":0.2007,"y":0.149},{"c":"20","x":0.2066,"y":0.149},{"c":"20","x":0.2127,"y":0.1675},{"c":"20","x":0.2153,"y":0.1808},{"c":"20","x":0.2256,"y":0.1774},{"c":"20","x":0.2296,"y":0.1992},{"c":"20","x":0.2316,"y":0.2018},{"c":"20","x":0.2368,"y":0.1972},{"c":"20","x":0.2428,"y":0.2058},{"c":"20","x":0.2565,"y":0.2038},{"c":"20","x":0.2591,"y":0.1641},{"c":"20","x":0.2626,"y":0.1542},{"c":"20","x":0.267,"y":0.1535},
{"c":"30","x":0,"y":0.0763},{"c":"30","x":0.0029,"y":0.0749},{"c":"30","x":0.0081,"y":0.0704},{"c":"30","x":0.014,"y":0.0737},{"c":"30","x":0.0184,"y":0.0816},{"c":"30","x":0.0218,"y":0.108},{"c":"30","x":0.0244,"y":0.1094},{"c":"30","x":0.0347,"y":0.1094},{"c":"30","x":0.0373,"y":0.1179},{"c":"30","x":0.0459,"y":0.1212},{"c":"30","x":0.051,"y":0.1245},{"c":"30","x":0.0631,"y":0.1245},{"c":"30","x":0.0648,"y":0.1179},{"c":"30","x":0.0674,"y":0.0816},{"c":"30","x":0.07,"y":0.0737},{"c":"30","x":0.0785,"y":0.0697},{"c":"30","x":0.0871,"y":0.0697},{"c":"30","x":0.0935,"y":0.075},
{"c":"30","x":0.0963,"y":0.0763},{"c":"30","x":0.0992,"y":0.0749},{"c":"30","x":0.1044,"y":0.0704},{"c":"30","x":0.1103,"y":0.0737},{"c":"30","x":0.1147,"y":0.0816},{"c":"30","x":0.1181,"y":0.108},{"c":"30","x":0.1207,"y":0.1094},{"c":"30","x":0.131,"y":0.1094},{"c":"30","x":0.1336,"y":0.1179},{"c":"30","x":0.1422,"y":0.1212},{"c":"30","x":0.1473,"y":0.1245},{"c":"30","x":0.1594,"y":0.1245},{"c":"30","x":0.1611,"y":0.1179},{"c":"30","x":0.1637,"y":0.0816},{"c":"30","x":0.1663,"y":0.0737},{"c":"30","x":0.1748,"y":0.0697},{"c":"30","x":0.1834,"y":0.0697},{"c":"30","x":0.1898,"y":0.075},
{"c":"30","x":0.1926,"y":0.0763},{"c":"30","x":0.1955,"y":0.0749},{"c":"30","x":0.2007,"y":0.0704},{"c":"30","x":0.2066,"y":0.0737},{"c":"30","x":0.211,"y":0.0816},{"c":"30","x":0.2144,"y":0.108},{"c":"30","x":0.217,"y":0.1094},{"c":"30","x":0.2273,"y":0.1094},{"c":"30","x":0.2299,"y":0.1179},{"c":"30","x":0.2385,"y":0.1212},{"c":"30","x":0.2436,"y":0.1245},{"c":"30","x":0.2557,"y":0.1245},{"c":"30","x":0.2574,"y":0.1179},{"c":"30","x":0.26,"y":0.0816},{"c":"30","x":0.2626,"y":0.0737},{"c":"30","x":0.267,"y":0.072},
{"c":"40","x":0,"y":0},{"c":"40","x":0.014,"y":0},{"c":"40","x":0.0175,"y":0.0114},{"c":"40","x":0.0218,"y":0.0419},{"c":"40","x":0.0234,"y":0.0452},{"c":"40","x":0.0339,"y":0.0405},{"c":"40","x":0.0459,"y":0.0419},{"c":"40","x":0.0639,"y":0.0432},{"c":"40","x":0.0656,"y":0.022},{"c":"40","x":0.0682,"y":0},
{"c":"40","x":0.1103,"y":0},{"c":"40","x":0.1138,"y":0.0114},{"c":"40","x":0.1181,"y":0.0419},{"c":"40","x":0.1197,"y":0.0452},{"c":"40","x":0.1302,"y":0.0405},{"c":"40","x":0.1422,"y":0.0419},{"c":"40","x":0.1602,"y":0.0432},{"c":"40","x":0.1619,"y":0.022},{"c":"40","x":0.1645,"y":0},
{"c":"40","x":0.2066,"y":0},{"c":"40","x":0.2101,"y":0.0114},{"c":"40","x":0.2144,"y":0.0419},{"c":"40","x":0.216,"y":0.0452},{"c":"40","x":0.2265,"y":0.0405},{"c":"40","x":0.2385,"y":0.0419},{"c":"40","x":0.2565,"y":0.0432},{"c":"40","x":0.2582,"y":0.022},{"c":"40","x":0.2608,"y":0},{"c":"40","x":0.267,"y":0}
],
"nomR": [
{"x":0,"y":0.365},{"x":0.0027,"y":0.362},{"x":0.0045,"y":0.3436},{"x":0.0074,"y":0.3311},{"x":0.009,"y":0.3237},{"x":0.0154,"y":0.3408},{"x":0.0175,"y":0.3336},{"x":0.02,"y":0.3069},{"x":0.0292,"y":0.3137},{"x":0.034,"y":0.3187},{"x":0.0346,"y":0.3156},{"x":0.0369,"y":0.3078},{"x":0.0399,"y":0.31},{"x":0.0458,"y":0.3025},{"x":0.0493,"y":0.3075},{"x":0.0511,"y":0.3178},{"x":0.0623,"y":0.3162},{"x":0.0658,"y":0.3159},{"x":0.0676,"y":0.343},{"x":0.0699,"y":0.3585},{"x":0.0717,"y":0.3616},{"x":0.0782,"y":0.3523},{"x":0.08,"y":0.3548},{"x":0.0823,"y":0.3709},{"x":0.0917,"y":0.3678},{"x":0.0941,"y":0.3644},
{"x":0.0963,"y":0.365},{"x":0.099,"y":0.362},{"x":0.1008,"y":0.3436},{"x":0.1037,"y":0.3311},{"x":0.1053,"y":0.3237},{"x":0.1117,"y":0.3408},{"x":0.1138,"y":0.3336},{"x":0.1163,"y":0.3069},{"x":0.1255,"y":0.3137},{"x":0.1303,"y":0.3187},{"x":0.1309,"y":0.3156},{"x":0.1332,"y":0.3078},{"x":0.1362,"y":0.31},{"x":0.1421,"y":0.3025},{"x":0.1456,"y":0.3075},{"x":0.1474,"y":0.3178},{"x":0.1586,"y":0.3162},{"x":0.1621,"y":0.3159},{"x":0.1639,"y":0.343},{"x":0.1662,"y":0.3585},{"x":0.168,"y":0.3616},{"x":0.1745,"y":0.3523},{"x":0.1763,"y":0.3548},{"x":0.1786,"y":0.3709},{"x":0.188,"y":0.3678},{"x":0.1904,"y":0.3644},
{"x":0.1926,"y":0.365},{"x":0.1953,"y":0.362},{"x":0.1971,"y":0.3436},{"x":0.2,"y":0.3311},{"x":0.2016,"y":0.3237},{"x":0.208,"y":0.3408},{"x":0.2101,"y":0.3336},{"x":0.2126,"y":0.3069},{"x":0.2218,"y":0.3137},{"x":0.2266,"y":0.3187},{"x":0.2272,"y":0.3156},{"x":0.2295,"y":0.3078},{"x":0.2325,"y":0.31},{"x":0.2384,"y":0.3025},{"x":0.2419,"y":0.3075},{"x":0.2437,"y":0.3178},{"x":0.2549,"y":0.3162},{"x":0.2584,"y":0.3159},{"x":0.2602,"y":0.343},{"x":0.2625,"y":0.3585},{"x":0.2643,"y":0.3616},{"x":0.267,"y":0.358}
],
"nomB": [
{"x":0,"y":0.3155},{"x":0.0033,"y":0.3187},{"x":0.0051,"y":0.3399},{"x":0.0068,"y":0.356},{"x":0.0092,"y":0.3616},{"x":0.0151,"y":0.3529},{"x":0.0169,"y":0.3548},{"x":0.0198,"y":0.3709},{"x":0.0281,"y":0.3678},{"x":0.0334,"y":0.3622},{"x":0.0351,"y":0.3473},{"x":0.0375,"y":0.3299},{"x":0.0399,"y":0.3237},{"x":0.0463,"y":0.3402},{"x":0.0481,"y":0.3349},{"x":0.0505,"y":0.3162},{"x":0.0517,"y":0.3069},{"x":0.0599,"y":0.3137},{"x":0.0658,"y":0.3187},{"x":0.0688,"y":0.3075},{"x":0.0717,"y":0.31},{"x":0.0782,"y":0.3016},{"x":0.0823,"y":0.3174},{"x":0.0917,"y":0.315},
{"x":0.0963,"y":0.3155},{"x":0.0996,"y":0.3187},{"x":0.1014,"y":0.3399},{"x":0.1031,"y":0.356},{"x":0.1055,"y":0.3616},{"x":0.1114,"y":0.3529},{"x":0.1132,"y":0.3548},{"x":0.1161,"y":0.3709},{"x":0.1244,"y":0.3678},{"x":0.1297,"y":0.3622},{"x":0.1314,"y":0.3473},{"x":0.1338,"y":0.3299},{"x":0.1362,"y":0.3237},{"x":0.1426,"y":0.3402},{"x":0.1444,"y":0.3349},{"x":0.1468,"y":0.3162},{"x":0.148,"y":0.3069},{"x":0.1562,"y":0.3137},{"x":0.1621,"y":0.3187},{"x":0.1651,"y":0.3075},{"x":0.168,"y":0.31},{"x":0.1745,"y":0.3016},{"x":0.1786,"y":0.3174},{"x":0.188,"y":0.315},
{"x":0.1926,"y":0.3155},{"x":0.1959,"y":0.3187},{"x":0.1977,"y":0.3399},{"x":0.1994,"y":0.356},{"x":0.2018,"y":0.3616},{"x":0.2077,"y":0.3529},{"x":0.2095,"y":0.3548},{"x":0.2124,"y":0.3709},{"x":0.2207,"y":0.3678},{"x":0.226,"y":0.3622},{"x":0.2277,"y":0.3473},{"x":0.2301,"y":0.3299},{"x":0.2325,"y":0.3237},{"x":0.2389,"y":0.3402},{"x":0.2407,"y":0.3349},{"x":0.2431,"y":0.3162},{"x":0.2443,"y":0.3069},{"x":0.2525,"y":0.3137},{"x":0.2584,"y":0.3187},{"x":0.2614,"y":0.3075},{"x":0.2643,"y":0.31},{"x":0.267,"y":0.306}
],
"nomK": [
{"x":0,"y":0.315},{"x":0.0033,"y":0.3181},{"x":0.0063,"y":0.3075},{"x":0.0086,"y":0.3097},{"x":0.0151,"y":0.3025},{"x":0.0198,"y":0.3175},{"x":0.0281,"y":0.3156},{"x":0.034,"y":0.3168},{"x":0.0357,"y":0.3399},{"x":0.0392,"y":0.361},{"x":0.0458,"y":0.3529},{"x":0.0475,"y":0.3548},{"x":0.0511,"y":0.3706},{"x":0.0593,"y":0.3675},{"x":0.0652,"y":0.3604},{"x":0.0693,"y":0.3305},{"x":0.0717,"y":0.3237},{"x":0.0782,"y":0.3399},{"x":0.08,"y":0.3361},{"x":0.0823,"y":0.3162},{"x":0.0829,"y":0.3075},{"x":0.0906,"y":0.3125},{"x":0.0941,"y":0.3156},
{"x":0.0963,"y":0.315},{"x":0.0996,"y":0.3181},{"x":0.1026,"y":0.3075},{"x":0.1049,"y":0.3097},{"x":0.1114,"y":0.3025},{"x":0.1161,"y":0.3175},{"x":0.1244,"y":0.3156},{"x":0.1303,"y":0.3168},{"x":0.132,"y":0.3399},{"x":0.1355,"y":0.361},{"x":0.1421,"y":0.3529},{"x":0.1438,"y":0.3548},{"x":0.1474,"y":0.3706},{"x":0.1556,"y":0.3675},{"x":0.1615,"y":0.3604},{"x":0.1656,"y":0.3305},{"x":0.168,"y":0.3237},{"x":0.1745,"y":0.3399},{"x":0.1763,"y":0.3361},{"x":0.1786,"y":0.3162},{"x":0.1792,"y":0.3075},{"x":0.1869,"y":0.3125},{"x":0.1904,"y":0.3156},
{"x":0.1926,"y":0.315},{"x":0.1959,"y":0.3181},{"x":0.1989,"y":0.3075},{"x":0.2012,"y":0.3097},{"x":0.2077,"y":0.3025},{"x":0.2124,"y":0.3175},{"x":0.2207,"y":0.3156},{"x":0.2266,"y":0.3168},{"x":0.2283,"y":0.3399},{"x":0.2318,"y":0.361},{"x":0.2384,"y":0.3529},{"x":0.2401,"y":0.3548},{"x":0.2437,"y":0.3706},{"x":0.2519,"y":0.3675},{"x":0.2578,"y":0.3604},{"x":0.2619,"y":0.3305},{"x":0.2643,"y":0.3237},{"x":0.267,"y":0.33}
],
"arrows": [{"y":1,"xa":0.2673,"xb":0.3418},{"y":0.855,"xa":0.2673,"xb":0.3227},{"y":0.69,"xa":0.2673,"xb":0.3036},{"y":0.525,"xa":0.2673,"xb":0.284},{"y":0.23,"xa":0.2673,"xb":0.284},{"y":0.153,"xa":0.2673,"xb":0.3036},{"y":0.073,"xa":0.2673,"xb":0.3227},{"y":0,"xa":0.2673,"xb":0.3418}],
"heads": [{"y":1,"xh":0.2716},{"y":0.855,"xh":0.2716},{"y":0.69,"xh":0.2716},{"y":0.525,"xh":0.2716},{"y":0.23,"xh":0.2716},{"y":0.153,"xh":0.2716},{"y":0.073,"xh":0.2716},{"y":0,"xh":0.2716}],
"brackets": [{"xb":0.284,"top":0.525,"bot":0.23},{"xb":0.3036,"top":0.69,"bot":0.153},{"xb":0.3227,"top":0.855,"bot":0.073},{"xb":0.3418,"top":1,"bot":0}],
"labels": [{"t":"-10 µm","x":0.2737,"y":0.404},{"t":"-20 µm","x":0.2927,"y":0.436},{"t":"-30 µm","x":0.3107,"y":0.481},{"t":"-40 µm","x":0.3328,"y":0.52}]
},
"hconcat": [
{
  "width": 295, "height": 505,
  "view": {"stroke": null},
  "layer": [
    {
      "data": {"values": [{"a": 0.3011, "b": 0.3776}]},
      "mark": {"type": "rect", "fill": "#c3c3c3", "stroke": "#555555", "strokeWidth": 1.5},
      "encoding": {
        "y": {"field": "a", "type": "quantitative", "scale": {"domain": [0.3011, 0.3951], "nice": false, "zero": false},
              "axis": {"values": [0.31, 0.32, 0.33, 0.34, 0.35, 0.36, 0.37], "format": "~g", "title": "RRC", "titleFontSize": 26, "titlePadding": 4, "titleY": 294}},
        "y2": {"field": "b"}
      }
    },
    {
      "data": {"name": "left"},
      "mark": {"type": "line", "strokeWidth": 3},
      "encoding": {
        "x": {"field": "x", "type": "quantitative", "scale": {"domain": [-0.00177, 0.10247], "nice": false, "zero": false},
              "axis": {"values": [0, 0.02, 0.04, 0.06, 0.08, 0.1], "format": "~g", "title": "θportasatélites [rad]", "titleFontSize": 19, "titlePadding": 2}},
        "y": {"field": "y", "type": "quantitative"},
        "color": {"field": "p", "type": "nominal", "scale": {"domain": ["Planeta 1", "Planeta 2", "Planeta 3"], "range": ["#ff0000", "#0000ff", "#000000"]},
                  "legend": {"title": null, "orient": "none", "legendX": 0, "legendY": 7, "symbolType": "M-5,0H5", "symbolSize": 196, "symbolStrokeWidth": 3.5, "symbolOffset": 78, "labelOffset": 34, "labelFont": "DejaVu Serif", "labelFontSize": 22, "labelColor": "#111111", "padding": 5, "rowPadding": 1.5, "strokeColor": "#777777", "fillColor": "white"}},
        "strokeDash": {"field": "p", "type": "nominal", "scale": {"domain": ["Planeta 1", "Planeta 2", "Planeta 3"], "range": [[1, 0], [3, 3], [9, 4, 3, 4]]},
                  "legend": {"title": null, "orient": "none", "legendX": 0, "legendY": 7, "symbolType": "M-5,0H5", "symbolSize": 196, "symbolStrokeWidth": 3.5, "symbolOffset": 78, "labelOffset": 34, "labelFont": "DejaVu Serif", "labelFontSize": 22, "labelColor": "#111111", "padding": 5, "rowPadding": 1.5, "strokeColor": "#777777", "fillColor": "white"}}
      }
    },
    {
      "data": {"values": [{"t": "Posición nominal: 0 µm", "x": 0.1006, "y": 0.3731}]},
      "mark": {"type": "text", "align": "right", "baseline": "alphabetic", "font": "DejaVu Serif", "fontSize": 23, "color": "#111111"},
      "encoding": {"x": {"field": "x", "type": "quantitative"}, "y": {"field": "y", "type": "quantitative"}, "text": {"field": "t", "type": "nominal"}}
    }
  ]
},
{
  "width": 523, "height": 505,
  "view": {"stroke": "#444444", "strokeWidth": 1.5},
  "layer": [
    {
      "data": {"values": [{"lo": 0.3, "hi": 0.418}]},
      "mark": {"type": "rect", "color": "#c3c3c3"},
      "encoding": {
        "y": {"field": "lo", "type": "quantitative", "scale": {"domain": [0, 1], "nice": false, "zero": false},
              "axis": {"values": [0, 0.1, 0.2, 0.3, 0.4, 0.5, 0.6, 0.7, 0.8, 0.9, 1], "format": "~g", "title": "RRC", "titleFontSize": 26, "titlePadding": 3, "titleY": 295}},
        "y2": {"field": "hi"}
      }
    },
    {
      "data": {"name": "offR"},
      "mark": {"type": "line", "color": "#ff0000", "strokeWidth": 1.4},
      "encoding": {
        "x": {"field": "x", "type": "quantitative", "scale": {"domain": [-0.002, 0.267], "nice": false, "zero": false},
              "axis": {"values": [0, 0.05, 0.1, 0.15, 0.2, 0.25], "format": "~g", "title": "θportasatélites [rad]", "titleFontSize": 19, "titlePadding": 2, "titleX": 272}},
        "y": {"field": "y", "type": "quantitative"},
        "detail": {"field": "c", "type": "nominal"}
      }
    },
    {
      "data": {"name": "offB"},
      "mark": {"type": "line", "color": "#0000ff", "strokeWidth": 1.3, "strokeDash": [1.5, 2]},
      "encoding": {"x": {"field": "x", "type": "quantitative"}, "y": {"field": "y", "type": "quantitative"}, "detail": {"field": "c", "type": "nominal"}}
    },
    {
      "data": {"name": "offK"},
      "mark": {"type": "line", "color": "#000000", "strokeWidth": 1.3, "strokeDash": [5, 2.5, 1.5, 2.5]},
      "encoding": {"x": {"field": "x", "type": "quantitative"}, "y": {"field": "y", "type": "quantitative"}, "detail": {"field": "c", "type": "nominal"}}
    },
    {
      "data": {"name": "nomK"},
      "mark": {"type": "line", "color": "#000000", "strokeWidth": 2.6, "strokeDash": [7, 3, 2.5, 3]},
      "encoding": {"x": {"field": "x", "type": "quantitative"}, "y": {"field": "y", "type": "quantitative"}}
    },
    {
      "data": {"name": "nomB"},
      "mark": {"type": "line", "color": "#0000ff", "strokeWidth": 2.8, "strokeDash": [3, 3]},
      "encoding": {"x": {"field": "x", "type": "quantitative"}, "y": {"field": "y", "type": "quantitative"}}
    },
    {
      "data": {"name": "nomR"},
      "mark": {"type": "line", "color": "#ff0000", "strokeWidth": 2.8},
      "encoding": {"x": {"field": "x", "type": "quantitative"}, "y": {"field": "y", "type": "quantitative"}}
    },
    {
      "data": {"values": [{"t": "Posición nominal: 0 µm", "x": 0.1523, "y": 0.383}]},
      "mark": {"type": "text", "align": "center", "baseline": "alphabetic", "font": "DejaVu Serif", "fontSize": 23, "color": "#111111"},
      "encoding": {"x": {"field": "x", "type": "quantitative"}, "y": {"field": "y", "type": "quantitative"}, "text": {"field": "t", "type": "nominal"}}
    },
    {
      "data": {"name": "arrows"},
      "mark": {"type": "rule", "color": "#111111", "strokeWidth": 1.3},
      "encoding": {"x": {"field": "xa", "type": "quantitative"}, "x2": {"field": "xb"}, "y": {"field": "y", "type": "quantitative"}}
    },
    {
      "data": {"name": "brackets"},
      "mark": {"type": "rule", "color": "#111111", "strokeWidth": 1.3},
      "encoding": {"x": {"field": "xb", "type": "quantitative"}, "y": {"field": "top", "type": "quantitative"}, "y2": {"field": "bot"}}
    },
    {
      "data": {"name": "heads"},
      "mark": {"type": "point", "shape": "triangle-left", "filled": true, "color": "#111111", "size": 70, "opacity": 1},
      "encoding": {"x": {"field": "xh", "type": "quantitative"}, "y": {"field": "y", "type": "quantitative"}}
    },
    {
      "data": {"name": "labels"},
      "mark": {"type": "text", "angle": 270, "align": "center", "baseline": "middle", "font": "DejaVu Serif", "fontSize": 24, "color": "#111111"},
      "encoding": {"x": {"field": "x", "type": "quantitative"}, "y": {"field": "y", "type": "quantitative"}, "text": {"field": "t", "type": "nominal"}}
    }
  ]
}
]
}
